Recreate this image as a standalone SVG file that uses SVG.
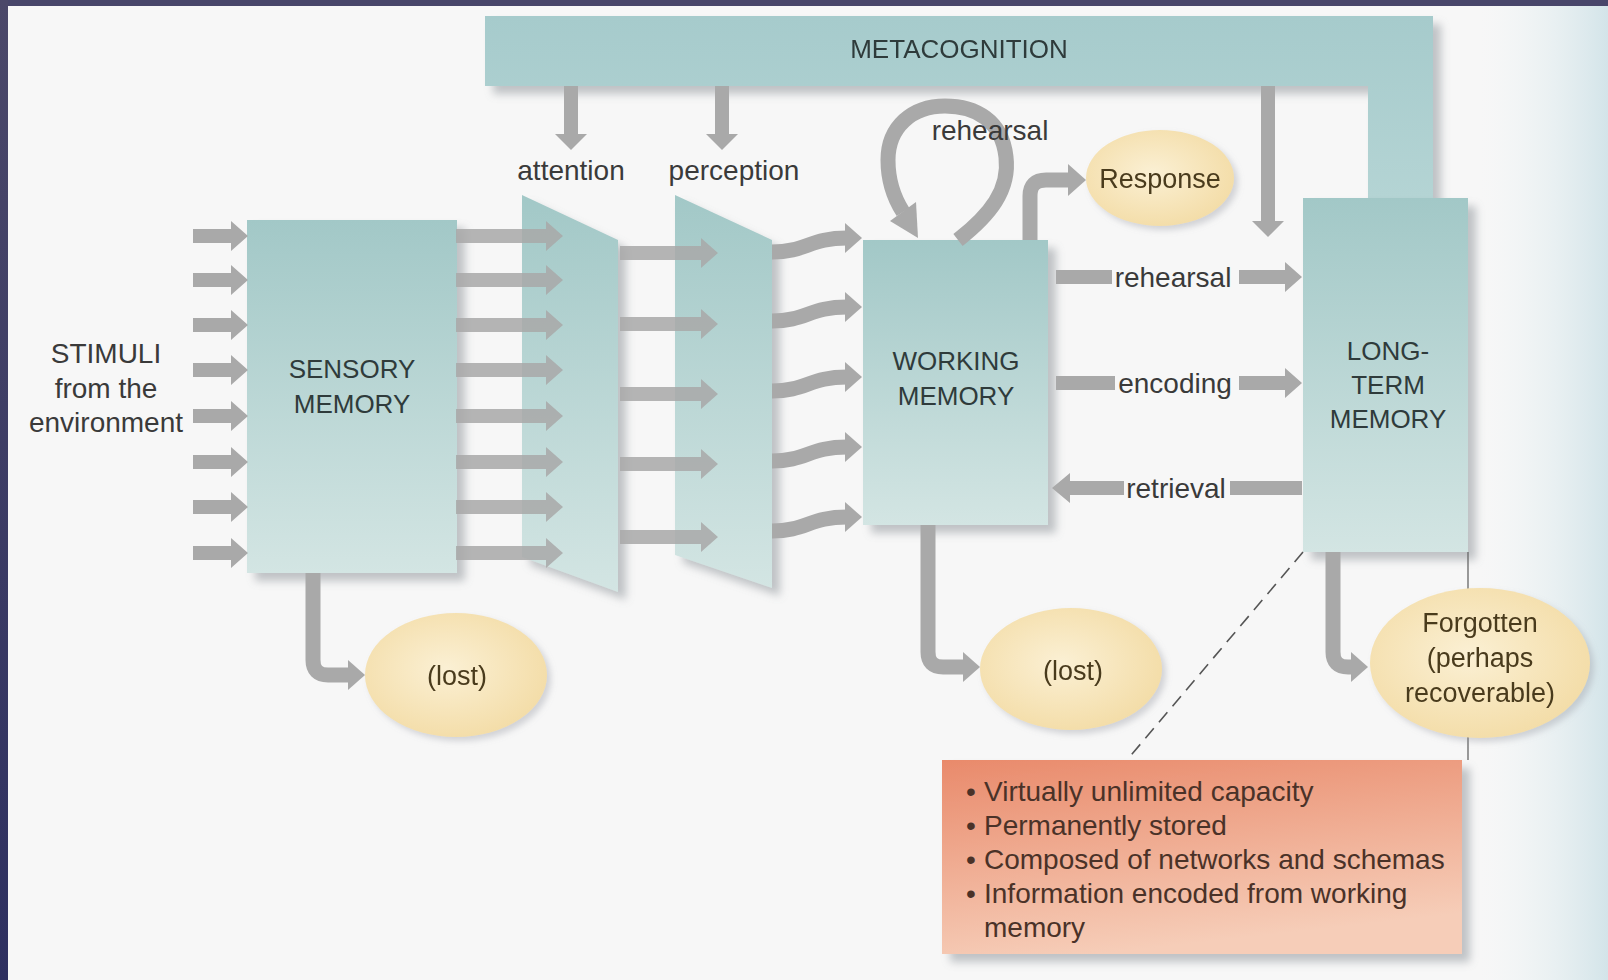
<svg xmlns="http://www.w3.org/2000/svg" xmlns:xlink="http://www.w3.org/1999/xlink" width="1608" height="980" viewBox="0 0 1608 980">
<defs>
<style>
.lbl{font-family:"Liberation Sans",Arial,sans-serif;font-size:28px;fill:#3a3a3a;text-anchor:middle}
.cap{font-family:"Liberation Sans",Arial,sans-serif;font-size:26px;fill:#2f3b3b;text-anchor:middle}
.ell{font-family:"Liberation Sans",Arial,sans-serif;font-size:27px;fill:#4a3b1e;text-anchor:middle}
.note{font-family:"Liberation Sans",Arial,sans-serif;font-size:28px;fill:#4a3228}
.arr{fill:#a9a9a9}
.arrs{fill:none;stroke:#a9a9a9;stroke-width:15}
.teal{fill:url(#gTeal)}
.oval{fill:url(#gOval)}
</style>
<linearGradient id="gTeal" x1="0" y1="0" x2="0" y2="1">
<stop offset="0" stop-color="#a2c8c7"/>
<stop offset="1" stop-color="#d3e5e3"/>
</linearGradient>
<linearGradient id="gMeta" x1="0" y1="0" x2="0" y2="1">
<stop offset="0" stop-color="#a6cbcc"/>
<stop offset="1" stop-color="#b4d4d4"/>
</linearGradient>
<radialGradient id="gOval" cx="0.45" cy="0.45" r="0.6">
<stop offset="0" stop-color="#fbf0d4"/>
<stop offset="1" stop-color="#f3dca6"/>
</radialGradient>
<linearGradient id="gNote" x1="0" y1="0" x2="0.3" y2="1">
<stop offset="0" stop-color="#e98a6b"/>
<stop offset="1" stop-color="#f6cdb8"/>
</linearGradient>
<linearGradient id="gRight" x1="0" y1="0" x2="1" y2="0">
<stop offset="0" stop-color="#eef4f5" stop-opacity="0"/>
<stop offset="1" stop-color="#d3e4e9"/>
</linearGradient>
<linearGradient id="gFrame" x1="0" y1="0" x2="0" y2="1">
<stop offset="0" stop-color="#4b4869"/>
<stop offset="1" stop-color="#2e3060"/>
</linearGradient>
<filter id="sh" x="-20%" y="-20%" width="150%" height="150%">
<feDropShadow dx="8" dy="8" stdDeviation="4" flood-color="#7d828a" flood-opacity="0.45"/>
</filter>
<filter id="shs" x="-20%" y="-20%" width="150%" height="150%">
<feDropShadow dx="4" dy="4" stdDeviation="3" flood-color="#8a8f98" flood-opacity="0.35"/>
</filter>
<path id="inArrow" d="M0,-7 H38 V-15 L55,0 L38,15 V7 H0 Z"/>
<path id="saArrow" d="M0,-7 H90 V-15 L107,0 L90,15 V7 H0 Z"/>
<path id="apArrow" d="M0,-7 H81 V-15 L98,0 L81,15 V7 H0 Z"/>
</defs>

<!-- background -->
<rect x="0" y="0" width="1608" height="980" fill="#f7f7f7"/>
<rect x="1480" y="6" width="128" height="974" fill="url(#gRight)"/>
<rect x="0" y="0" width="1608" height="6" fill="#48466a"/>
<rect x="0" y="0" width="8" height="980" fill="url(#gFrame)"/>

<!-- nodes -->
<g id="metacognition" filter="url(#sh)">
<path d="M485,16 H1433 V198 H1368 V86 H485 Z" fill="url(#gMeta)"/>
<text class="cap" x="959" y="58">METACOGNITION</text>
</g>

<g id="sensory-memory">
<rect x="247" y="220" width="210" height="353" class="teal" filter="url(#sh)"/>
<text class="cap" x="352" y="378">SENSORY</text>
<text class="cap" x="352" y="413">MEMORY</text>
</g>

<g id="attention">
<polygon points="522,195 618,240 618,592 522,557" class="teal" filter="url(#sh)"/>
<text class="lbl" x="571" y="180">attention</text>
</g>

<g id="perception">
<polygon points="675,195 772,240 772,588 675,555" class="teal" filter="url(#sh)"/>
<text class="lbl" x="734" y="180">perception</text>
</g>

<g id="working-memory">
<rect x="863" y="240" width="185" height="285" class="teal" filter="url(#sh)"/>
<text class="cap" x="956" y="370">WORKING</text>
<text class="cap" x="956" y="405">MEMORY</text>
</g>

<g id="long-term-memory">
<rect x="1303" y="198" width="165" height="354" class="teal" filter="url(#sh)"/>
<text class="cap" x="1388" y="360">LONG-</text>
<text class="cap" x="1388" y="394">TERM</text>
<text class="cap" x="1388" y="428">MEMORY</text>
</g>

<g id="stimuli">
<text class="lbl" x="106" y="363">STIMULI</text>
<text class="lbl" x="106" y="398">from the</text>
<text class="lbl" x="106" y="432">environment</text>
</g>

<!-- connectors -->
<g id="connectors">
<g class="arr">
<use xlink:href="#inArrow" x="193" y="236"/>
<use xlink:href="#inArrow" x="193" y="280"/>
<use xlink:href="#inArrow" x="193" y="325"/>
<use xlink:href="#inArrow" x="193" y="370"/>
<use xlink:href="#inArrow" x="193" y="416"/>
<use xlink:href="#inArrow" x="193" y="462"/>
<use xlink:href="#inArrow" x="193" y="507"/>
<use xlink:href="#inArrow" x="193" y="553"/>
</g>
<g class="arr" opacity="0.85">
<use xlink:href="#saArrow" x="456" y="236"/>
<use xlink:href="#saArrow" x="456" y="280"/>
<use xlink:href="#saArrow" x="456" y="325"/>
<use xlink:href="#saArrow" x="456" y="370"/>
<use xlink:href="#saArrow" x="456" y="416"/>
<use xlink:href="#saArrow" x="456" y="462"/>
<use xlink:href="#saArrow" x="456" y="507"/>
<use xlink:href="#saArrow" x="456" y="553"/>
</g>
<g class="arr" opacity="0.85">
<use xlink:href="#apArrow" x="620" y="253"/>
<use xlink:href="#apArrow" x="620" y="324"/>
<use xlink:href="#apArrow" x="620" y="394"/>
<use xlink:href="#apArrow" x="620" y="464"/>
<use xlink:href="#apArrow" x="620" y="537"/>
</g>
<g>
<path class="arrs" d="M772,252 C806,252 810,238 847,238"/>
<path class="arr" d="M845,223 L862,238 L845,253 Z"/>
<path class="arrs" d="M772,321 C806,321 810,307 847,307"/>
<path class="arr" d="M845,292 L862,307 L845,322 Z"/>
<path class="arrs" d="M772,391 C806,391 810,377 847,377"/>
<path class="arr" d="M845,362 L862,377 L845,392 Z"/>
<path class="arrs" d="M772,461 C806,461 810,447 847,447"/>
<path class="arr" d="M845,432 L862,447 L845,462 Z"/>
<path class="arrs" d="M772,531 C806,531 810,517 847,517"/>
<path class="arr" d="M845,502 L862,517 L845,532 Z"/>
</g>
<path class="arr" d="M564,86 H578 V134 H587 L571,150 L555,134 H564 Z"/>
<path class="arr" d="M715,86 H729 V134 H738 L722,150 L706,134 H715 Z"/>
<path class="arr" d="M1261,86 H1275 V221 H1284 L1268,237 L1252,221 H1261 Z"/>
<path class="arrs" d="M958,240 C990,215 1010,190 1006,157 C1002,120 975,106 945,106 C912,106 888,127 888,160 C888,181 894,198 903,212"/>
<path class="arr" d="M916,202 L918,238 L890,221 Z"/>
<text class="lbl" x="990" y="140">rehearsal</text>
<path class="arrs" d="M1030,240 V196 Q1030,180 1046,180 H1070"/>
<path class="arr" d="M1068,164 L1086,180 L1068,196 Z"/>
<path class="arr" d="M1056,270 H1112 V284 H1056 Z"/>
<path class="arr" d="M1239,270 H1285 V262 L1302,277 L1285,292 V284 H1239 Z"/>
<text class="lbl" x="1173" y="287">rehearsal</text>
<path class="arr" d="M1056,376 H1115 V390 H1056 Z"/>
<path class="arr" d="M1239,376 H1285 V368 L1302,383 L1285,398 V390 H1239 Z"/>
<text class="lbl" x="1175" y="393">encoding</text>
<path class="arr" d="M1302,481 H1230 V495 H1302 Z"/>
<path class="arr" d="M1124,481 H1070 V473 L1052,488 L1070,503 V495 H1124 Z"/>
<text class="lbl" x="1176" y="498">retrieval</text>
<path class="arrs" d="M313,573 V660 Q313,675 328,675 H350"/>
<path class="arr" d="M348,660 L365,675 L348,690 Z"/>
<path class="arrs" d="M928,525 V652 Q928,667 943,667 H965"/>
<path class="arr" d="M963,652 L980,667 L963,682 Z"/>
<path class="arrs" d="M1333,552 V652 Q1333,667 1348,667 H1353"/>
<path class="arr" d="M1351,652 L1368,667 L1351,682 Z"/>
<path d="M1303,552 L1127,760" fill="none" stroke="#555" stroke-width="1.6" stroke-dasharray="13 8"/>
<path d="M1468,552 V760" fill="none" stroke="#666" stroke-width="1.3"/>
</g>

<g id="response" filter="url(#shs)">
<ellipse cx="1160" cy="178" rx="74" ry="48" class="oval"/>
<text class="ell" x="1160" y="188">Response</text>
</g>

<g id="lost-1" filter="url(#shs)">
<ellipse cx="456" cy="675" rx="91" ry="62" class="oval"/>
<text class="ell" x="457" y="685">(lost)</text>
</g>

<g id="lost-2" filter="url(#shs)">
<ellipse cx="1071" cy="669" rx="91" ry="61" class="oval"/>
<text class="ell" x="1073" y="680">(lost)</text>
</g>

<g id="forgotten" filter="url(#shs)">
<ellipse cx="1480" cy="663" rx="110" ry="75" class="oval"/>
<text class="ell" x="1480" y="632">Forgotten</text>
<text class="ell" x="1480" y="667">(perhaps</text>
<text class="ell" x="1480" y="702">recoverable)</text>
</g>

<g id="ltm-notes">
<rect x="942" y="760" width="520" height="194" fill="url(#gNote)" filter="url(#sh)"/>
<text class="note" x="966" y="801">•</text><text class="note" x="984" y="801">Virtually unlimited capacity</text>
<text class="note" x="966" y="835">•</text><text class="note" x="984" y="835">Permanently stored</text>
<text class="note" x="966" y="869">•</text><text class="note" x="984" y="869">Composed of networks and schemas</text>
<text class="note" x="966" y="903">•</text><text class="note" x="984" y="903">Information encoded from working</text>
<text class="note" x="984" y="937">memory</text>
</g>
</svg>
